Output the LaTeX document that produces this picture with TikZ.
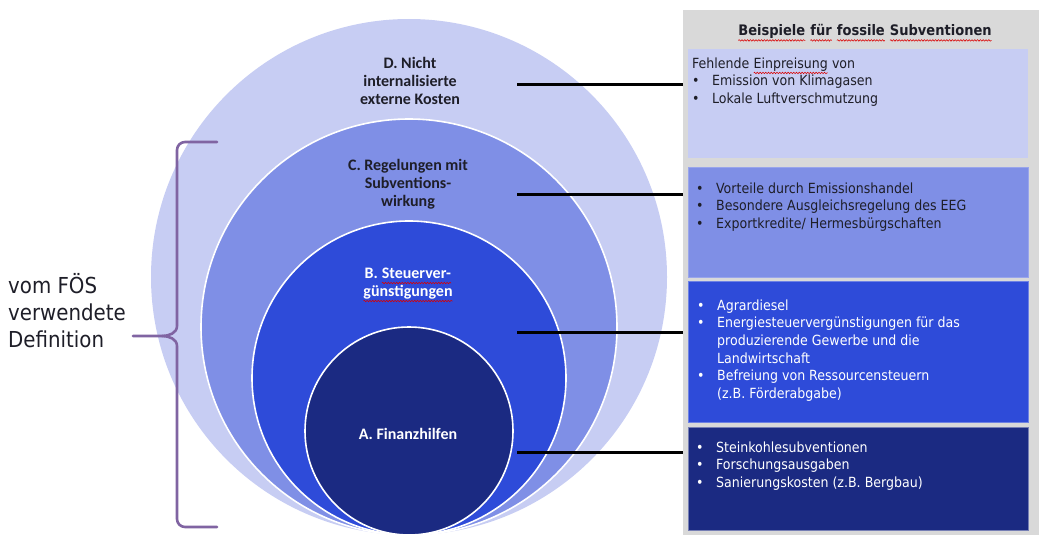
\documentclass[tikz,border=0pt]{standalone}
\usepackage{fontspec}
\usetikzlibrary{decorations.pathmorphing}
\setmainfont{DejaVu Sans Condensed}
\newfontfamily\calib{Carlito}
\tikzset{squig/.style={draw=red!85!black, line width=0.55pt, decorate, decoration={snake, amplitude=0.75pt, segment length=2.8pt}}}
\newcommand\redwave[1]{\tikz[baseline=(w.base), x=1pt, y=1pt]{\node[inner sep=0pt, outer sep=0pt] (w) {#1}; \draw[squig] ([yshift=-4.6pt]w.base west) -- ([yshift=-4.6pt]w.base east);}}
\newcommand\bul{\makebox[20pt][l]{•}}
\definecolor{cD}{HTML}{C7CDF3}
\definecolor{cC}{HTML}{7F8FE6}
\definecolor{cB}{HTML}{2E4BD9}
\definecolor{cA}{HTML}{1B2A82}
\definecolor{panelgray}{HTML}{D9D9D9}
\definecolor{bracecol}{HTML}{8064A2}
\definecolor{ink}{HTML}{1E1E28}
\begin{document}
\begin{tikzpicture}[x=1pt,y=-1pt,
  ring/.style={circle, inner sep=0pt, draw=white, line width=1.6pt},
  clabel/.style={align=center, inner sep=0pt, font=\calib\bfseries\fontsize{16}{18}\selectfont},
  lead/.style={line width=3pt, draw=black},
  exbox/.style={anchor=north west, inner sep=0pt, minimum width=340pt},
  btext/.style={anchor=north west, inner sep=0pt, align=left, font=\fontsize{14}{17.6}\selectfont},
  bracestyle/.style={draw=bracecol, line width=2.6pt, line cap=round, line join=round}]
\useasboundingbox (0,0) rectangle (1039,535);
\clip (0,0) rectangle (1039,535);
% circles
\node[ring, fill=cD, draw=none, minimum size=516pt] (circD) at (409,277) {};
\node[ring, fill=cC, minimum size=416pt] (circC) at (409,327) {};
\node[ring, fill=cB, minimum size=314pt] (circB) at (409,378) {};
\node[ring, fill=cA, minimum size=208pt] (circA) at (409,431) {};
% circle labels
\node[clabel, text=ink] (labD) at (410,81) {D. Nicht\\internalisierte\\externe Kosten};
\node[clabel, text=ink] (labC) at (408,184) {C. Regelungen mit\\Subventions-\\wirkung};
\node[clabel, text=white] (labB) at (408,285) {B. \redwave{\color{white}Steuerver-}\\\redwave{\color{white}günstigungen}};
\node[clabel, text=white] (labA) at (408,434) {A. Finanzhilfen};
% panel and boxes
\node[fill=panelgray, anchor=north west, inner sep=0pt, minimum width=356pt, minimum height=525pt] (panel) at (683,10) {};
\node[exbox, fill=cD, minimum height=109pt] (boxD) at (688,49) {};
\node[exbox, fill=cC, draw=cC!80!white, line width=0.6pt, minimum height=110pt] (boxC) at (688,167) {};
\node[exbox, fill=cB, draw=cB!70!white, line width=0.8pt, minimum height=141pt] (boxB) at (688,281) {};
\node[exbox, fill=cA, draw=cA!60!white, line width=0.8pt, minimum height=103pt] (boxA) at (688,427) {};
% leader lines
\coordinate (pD) at (517,85);
\coordinate (pC) at (517,194);
\coordinate (pB) at (517,332);
\coordinate (pA) at (517,452);
\draw[lead] (pD) -- (pD -| panel.west);
\draw[lead] (pC) -- (pC -| panel.west);
\draw[lead] (pB) -- (pB -| panel.west);
\draw[lead] (pA) -- (pA -| panel.west);
% title
\node[inner sep=0pt, text=ink, font=\bfseries\fontsize{14.5}{16}\selectfont] (title) at (865,33) {\redwave{\color{ink}Beispiele} \redwave{\color{ink}für} \redwave{\color{ink}fossile} \redwave{\color{ink}Subventionen}};
% box texts
\node[btext, text=ink] (tD) at (692,57.5) {Fehlende \redwave{\color{ink}Einpreisung} von\\\bul Emission von Klimagasen\\\bul Lokale Luftverschmutzung};
\node[btext, text=ink] (tC) at (696,182.5) {\bul Vorteile durch Emissionshandel\\\bul Besondere Ausgleichsregelung des EEG\\\bul Exportkredite/ Hermesbürgschaften};
\node[btext, text=white] (tB) at (697,299.5) {\bul Agrardiesel\\\bul Energiesteuervergünstigungen für das\\\hspace*{20pt}produzierende Gewerbe und die\\\hspace*{20pt}Landwirtschaft\\\bul Befreiung von Ressourcensteuern\\\hspace*{20pt}(z.B. Förderabgabe)};
\node[btext, text=white] (tA) at (696,441.5) {\bul Steinkohlesubventionen\\\bul Forschungsausgaben\\\bul Sanierungskosten (z.B. Bergbau)};
% brace
\draw[bracestyle] (217,142) -- (185,142) to[out=180,in=90] (177,150) -- (177,326) to[out=-90,in=0] (162,336) -- (133,336);
\draw[bracestyle] (162,336) to[out=0,in=90] (177,346) -- (177,519) to[out=-90,in=180] (185,527) -- (217,527);
% left label
\node[anchor=west, inner sep=0pt, align=left, text=ink, font=\fontsize{22}{27}\selectfont] (deflabel) at (8,311) {vom FÖS\\verwendete\\Definition};
\end{tikzpicture}
\end{document}
